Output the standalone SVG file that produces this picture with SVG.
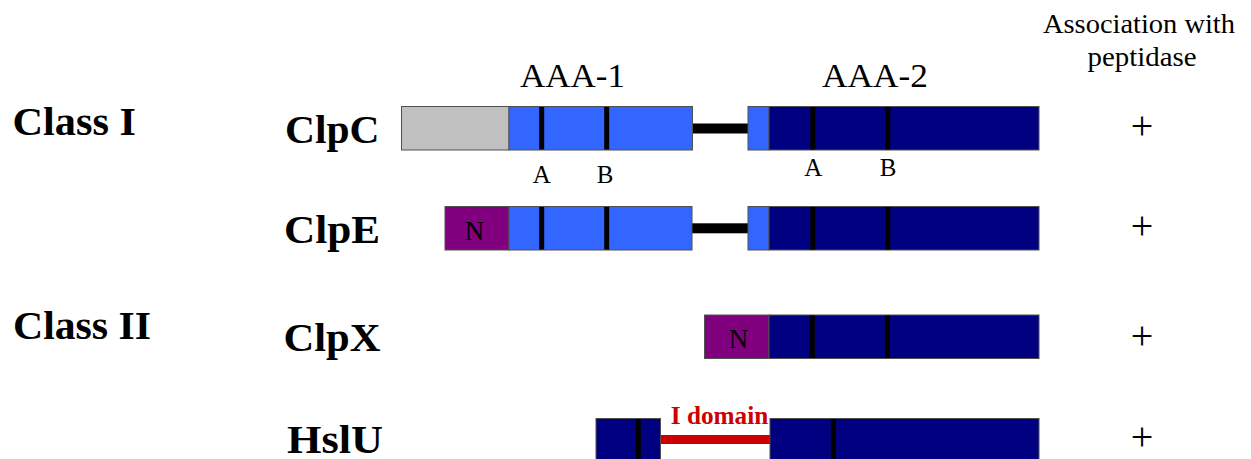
<svg xmlns="http://www.w3.org/2000/svg" width="1251" height="459" viewBox="0 0 1251 459">
<style>
.seg{stroke:#505050;stroke-width:1}
.gray{fill:#c0c0c0}
.lb{fill:#3366ff}
.nv{fill:#000080}
.pu{fill:#800080}
.mk{fill:#000}
.bt{font-family:'Liberation Serif','Times New Roman',Times,serif;font-weight:bold;fill:#000}
.rt{font-family:'Liberation Serif','Times New Roman',Times,serif;fill:#000}
.pl{font-family:'Liberation Serif','Times New Roman',Times,serif;font-size:40px;fill:#000;text-anchor:middle}
</style>
<rect width="1251" height="459" fill="#fff"/>
<g id="headers">
<text class="rt" x="572.5" y="87" font-size="34" text-anchor="middle" textLength="105" lengthAdjust="spacingAndGlyphs">AAA-1</text>
<text class="rt" x="875" y="87" font-size="34" text-anchor="middle" textLength="106" lengthAdjust="spacingAndGlyphs">AAA-2</text>
<text class="rt" x="1139" y="33" font-size="27" text-anchor="middle" textLength="192" lengthAdjust="spacingAndGlyphs">Association with</text>
<text class="rt" x="1142" y="66" font-size="27" text-anchor="middle" textLength="109" lengthAdjust="spacingAndGlyphs">peptidase</text>
</g>
<g id="classes">
<text class="bt" x="12.5" y="134.5" font-size="39" textLength="123.5" lengthAdjust="spacingAndGlyphs">Class I</text>
<text class="bt" x="13" y="339" font-size="39" textLength="138" lengthAdjust="spacingAndGlyphs">Class II</text>
</g>
<g id="connectors">
<rect x="692" y="123.5" width="56" height="10" fill="#000"/>
<rect x="692" y="223.3" width="56" height="10" fill="#000"/>
<rect x="660.5" y="435" width="109.5" height="9" fill="#cc0000"/>
</g>
<g id="ClpC">
<text class="bt" x="285" y="143" font-size="39" textLength="94.5" lengthAdjust="spacingAndGlyphs">ClpC</text>
<rect class="seg gray" x="401.5" y="106.5" width="107.5" height="43.5"/>
<rect class="seg lb" x="509" y="106.5" width="183.5" height="43.5"/>
<rect class="mk" x="539.2" y="107" width="5" height="42.5"/>
<rect class="mk" x="604.2" y="107" width="5" height="42.5"/>
<rect class="seg lb" x="748" y="106.5" width="21" height="43.5"/>
<rect class="seg nv" x="769" y="106.5" width="270" height="43.5"/>
<rect class="mk" x="810.3" y="107" width="5" height="42.5"/>
<rect class="mk" x="885.3" y="107" width="5" height="42.5"/>
<text class="rt" x="541.7" y="182.5" font-size="25" text-anchor="middle">A</text>
<text class="rt" x="605" y="182.5" font-size="25" text-anchor="middle">B</text>
<text class="rt" x="813.3" y="176" font-size="25" text-anchor="middle">A</text>
<text class="rt" x="888" y="176" font-size="25" text-anchor="middle">B</text>
<text class="pl" x="1142" y="139">+</text>
</g>
<g id="ClpE">
<text class="bt" x="284" y="242.5" font-size="39" textLength="96" lengthAdjust="spacingAndGlyphs">ClpE</text>
<rect class="seg pu" x="445" y="206.5" width="64" height="43.5"/>
<text class="rt" x="474.5" y="239.5" font-size="27" text-anchor="middle">N</text>
<rect class="seg lb" x="509" y="206.5" width="183" height="43.5"/>
<rect class="mk" x="539.2" y="207" width="5" height="42.5"/>
<rect class="mk" x="604.2" y="207" width="5" height="42.5"/>
<rect class="seg lb" x="748" y="206.5" width="21" height="43.5"/>
<rect class="seg nv" x="769" y="206.5" width="270" height="43.5"/>
<rect class="mk" x="810.3" y="207" width="5" height="42.5"/>
<rect class="mk" x="885.3" y="207" width="5" height="42.5"/>
<text class="pl" x="1142" y="239">+</text>
</g>
<g id="ClpX">
<text class="bt" x="283.5" y="351" font-size="39" textLength="97" lengthAdjust="spacingAndGlyphs">ClpX</text>
<rect class="seg pu" x="704.5" y="315" width="64.5" height="43.5"/>
<text class="rt" x="738.5" y="347.5" font-size="27" text-anchor="middle">N</text>
<rect class="seg nv" x="769" y="315" width="270" height="43.5"/>
<rect class="mk" x="809.8" y="315.5" width="5" height="42.5"/>
<rect class="mk" x="884.8" y="315.5" width="5" height="42.5"/>
<text class="pl" x="1142" y="349">+</text>
</g>
<g id="HslU">
<text class="bt" x="287" y="452.7" font-size="39" textLength="96" lengthAdjust="spacingAndGlyphs">HslU</text>
<rect class="seg nv" x="596" y="418.5" width="64.5" height="45"/>
<rect class="mk" x="635.8" y="419" width="5" height="45"/>
<rect class="seg nv" x="770" y="418.5" width="269" height="45"/>
<rect class="mk" x="830.8" y="419" width="5" height="45"/>
<text x="719.5" y="424" font-family="'Liberation Serif','Times New Roman',Times,serif" font-weight="bold" font-size="25" fill="#cc0000" text-anchor="middle" textLength="97.5" lengthAdjust="spacingAndGlyphs">I domain</text>
<text class="pl" x="1142" y="450">+</text>
</g>
</svg>
